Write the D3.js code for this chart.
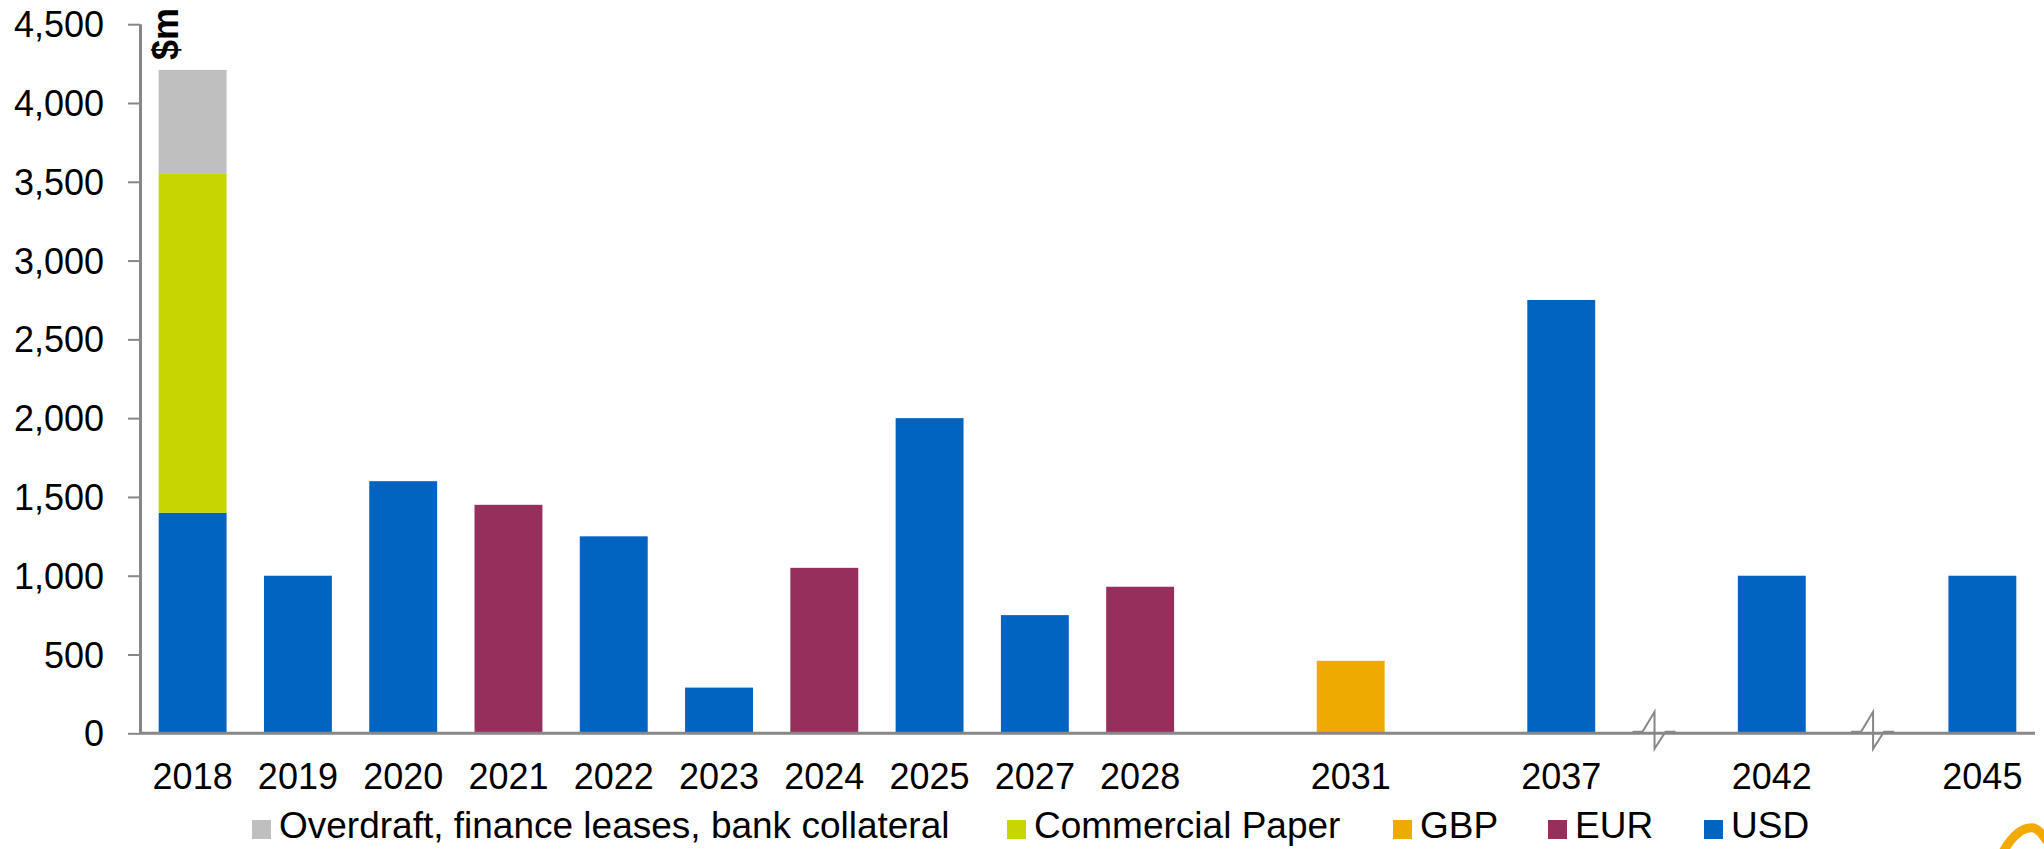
<!DOCTYPE html>
<html>
<head>
<meta charset="utf-8">
<script src="https://cdn.jsdelivr.net/npm/d3@7"></script>
<style>
  html, body { margin: 0; padding: 0; background: #ffffff; }
  svg { display: block; font-family: "Liberation Sans", Arial, sans-serif; }
</style>
</head>
<body>
<svg id="chart" width="2044" height="849"></svg>
<script>
// ---- data ----
const slots = ["2018","2019","2020","2021","2022","2023","2024","2025","2027","2028","gap1","2031","gap2","2037","break1","2042","break2","2045"];
const yearLabels = ["2018","2019","2020","2021","2022","2023","2024","2025","2027","2028","2031","2037","2042","2045"];
const breakSlots = ["break1","break2"];
const usd       = [1400,1000,1600,0,1250,290,0,2000,750,0,0,0,0,2750,0,1000,0,1000];
const eur       = [0,0,0,1450,0,0,1050,0,0,930,0,0,0,0,0,0,0,0];
const gbp       = [0,0,0,0,0,0,0,0,0,0,0,460,0,0,0,0,0,0];
const cp        = [2150,0,0,0,0,0,0,0,0,0,0,0,0,0,0,0,0,0];
const overdraft = [660,0,0,0,0,0,0,0,0,0,0,0,0,0,0,0,0,0];
const yTicks = [0,500,1000,1500,2000,2500,3000,3500,4000,4500];
const seriesKeys = ["USD","EUR","GBP","Commercial Paper","Overdraft, finance leases, bank collateral"];
const seriesValues = {"USD": usd, "EUR": eur, "GBP": gbp, "Commercial Paper": cp, "Overdraft, finance leases, bank collateral": overdraft};
const colors = {"USD":"#0064c0","EUR":"#962f5c","GBP":"#efaa00","Commercial Paper":"#c8d600","Overdraft, finance leases, bank collateral":"#bfbfbf"};
const legendOrder = ["Overdraft, finance leases, bank collateral","Commercial Paper","GBP","EUR","USD"];
const legendX = [252, 1007, 1393, 1548, 1704];
const unitLabel = "$m";

// ---- layout ----
const svg = d3.select("#chart");
const axisColor = "#878787";
const x = d3.scaleBand().domain(slots).range([140, 2035]).paddingInner(0.355).paddingOuter(0.1775);
const y = d3.scaleLinear().domain([0, 4500]).range([733.3, 24.2]);

const table = slots.map((s, i) => {
  const row = {slot: s};
  seriesKeys.forEach(k => row[k] = seriesValues[k][i]);
  return row;
});
const stacked = d3.stack().keys(seriesKeys)(table);

// bars
svg.append("g").selectAll("g").data(stacked).join("g")
  .attr("fill", d => colors[d.key])
  .selectAll("rect").data(d => d.filter(p => p[1] - p[0] > 0)).join("rect")
  .attr("x", d => x(d.data.slot))
  .attr("width", x.bandwidth())
  .attr("y", d => y(d[1]))
  .attr("height", d => y(d[0]) - y(d[1]));

// y axis
const yAxis = svg.append("g").attr("transform", "translate(140,0)")
  .call(d3.axisLeft(y).tickValues(yTicks).tickFormat(d3.format(",")).tickSize(12).tickPadding(24));
yAxis.select(".domain").attr("stroke", axisColor).attr("stroke-width", 3).attr("d", `M0.5,${y(4500)}V${y(0)}`);
yAxis.selectAll(".tick line").attr("stroke", axisColor).attr("stroke-width", 2);
yAxis.selectAll(".tick text").attr("fill", "#000").style("font-size", "36px").attr("dy", "0.35em");

// x axis
const xAxis = svg.append("g").attr("transform", `translate(0,${y(0)})`)
  .call(d3.axisBottom(x).tickValues(yearLabels).tickSize(0).tickPadding(30));
xAxis.select(".domain").attr("stroke", axisColor).attr("stroke-width", 3).attr("d", "M140,0H2035");
xAxis.selectAll(".tick text").attr("fill", "#000").style("font-size", "36px").attr("dy", "0.71em");

// axis break marks
const breakOffsets = {"break1": -12, "break2": -4};
breakSlots.forEach(b => {
  const cx = x(b) + x.bandwidth() / 2 + breakOffsets[b];
  const y0 = y(0) - 1.5;
  const pts = [[cx-22,y0],[cx-12,y0],[cx,y0-20],[cx,y0+17],[cx+11,y0],[cx+21,y0]];
  svg.append("path")
    .attr("d", d3.line()(pts))
    .attr("fill", "none").attr("stroke", axisColor).attr("stroke-width", 2);
});

// unit label
svg.append("text")
  .attr("transform", "translate(178,60) rotate(-90)")
  .style("font-size", "36px").style("font-weight", "bold").attr("fill", "#000")
  .text(unitLabel);

// legend
const leg = svg.append("g");
legendOrder.forEach((k, i) => {
  const g = leg.append("g").attr("transform", `translate(${legendX[i]},0)`);
  g.append("rect").attr("x", 0).attr("y", 820).attr("width", 19).attr("height", 19).attr("fill", colors[k]);
  g.append("text").attr("x", 27).attr("y", 838).style("font-size", "37px").attr("fill", "#000").text(k);
});

// corner logo fragment
svg.append("path")
  .attr("d", "M2003,852 Q2018,826 2034,828 Q2040,830 2046,840")
  .attr("fill", "none").attr("stroke", "#f2a900").attr("stroke-width", 9).attr("stroke-linecap", "round");
</script>
</body>
</html>
